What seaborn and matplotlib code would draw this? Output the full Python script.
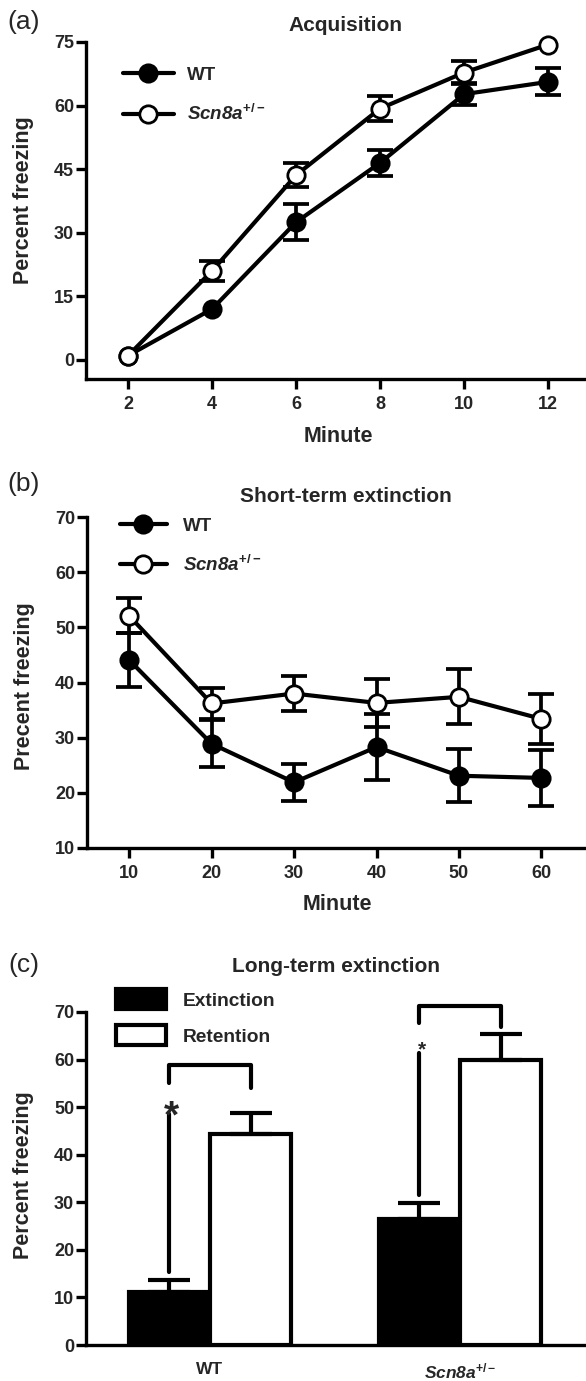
import numpy as np
import pandas as pd
import matplotlib
matplotlib.use("Agg")
import matplotlib.pyplot as plt
from matplotlib.patches import Patch
import seaborn as sns

# (a) Acquisition
acq_minutes = [2, 4, 6, 8, 10, 12]
acq_wt = [1.0, 12.0, 32.5, 46.5, 62.7, 65.6]
acq_wt_sem = [0.5, 1.0, 4.2, 3.0, 2.6, 3.2]
acq_het = [1.0, 21.0, 43.6, 59.3, 67.8, 74.4]
acq_het_sem = [0.5, 2.3, 2.8, 3.0, 2.7, 0.8]

# (b) Short-term extinction
ext_minutes = [10, 20, 30, 40, 50, 60]
ext_wt = [44.1, 28.9, 21.9, 28.3, 23.1, 22.7]
ext_wt_sem = [4.9, 4.3, 3.3, 6.0, 4.8, 5.0]
ext_het = [52.1, 36.2, 38.0, 36.3, 37.4, 33.4]
ext_het_sem = [3.2, 2.8, 3.2, 4.4, 5.0, 4.6]

# (c) Long-term extinction
genotypes = ["WT", "Scn8a$^{+/-}$"]
sessions = ["Extinction", "Retention"]
lt_extinction = [11.1, 26.4]
lt_extinction_sem = [2.5, 3.4]
lt_retention = [44.3, 60.0]
lt_retention_sem = [4.4, 5.3]

# significance brackets (c)
bracket_top = [58.8, 71.2]
bracket_left_end = [55.0, 67.7]
bracket_right_end = [54.0, 66.8]
sig_line_low = [15.3, 31.5]
sig_line_high = [48.6, 61.3]
star_y = [50.4, 63.4]
star_size = [28, 15]

HET = "Scn8a$^{+/-}$"

sns.set_theme(style="ticks")
plt.rcParams["font.family"] = ["Liberation Sans", "DejaVu Sans"]
plt.rcParams["font.weight"] = "bold"
plt.rcParams["axes.labelweight"] = "bold"
plt.rcParams["mathtext.fontset"] = "custom"
plt.rcParams["mathtext.rm"] = "Liberation Sans:bold"
plt.rcParams["mathtext.it"] = "Liberation Sans:italic:bold"
plt.rcParams["mathtext.bf"] = "Liberation Sans:bold"

W, H = 586, 1381
fig = plt.figure(figsize=(W / 100, H / 100), dpi=100)


def axes_px(left, top, right, bottom):
    return fig.add_axes([left / W, 1 - bottom / H, (right - left) / W, (bottom - top) / H])


def style_axes(ax):
    sns.despine(ax=ax)
    for s in ["left", "bottom"]:
        ax.spines[s].set_linewidth(2.4)
        ax.spines[s].set_color("black")
    ax.tick_params(direction="out", length=7, width=2.4, labelsize=13, color="black")
    ax.tick_params(axis="y", pad=1.5)
    ax.tick_params(axis="x", pad=5)
    for t in ax.get_xticklabels() + ax.get_yticklabels():
        t.set_fontweight("bold")


def draw_lines(ax, x, wt, wt_sem, het, het_sem, min_err):
    # like Prism: error bars smaller than the symbol are not drawn
    for y, e in [(wt, wt_sem), (het, het_sem)]:
        keep = np.array(e) > min_err
        ax.errorbar(np.array(x)[keep], np.array(y)[keep], yerr=np.array(e)[keep], fmt="none",
                    ecolor="black", elinewidth=2.7, capsize=9.5, capthick=2.7, zorder=2,
                    clip_on=False)
    sns.lineplot(x=x, y=wt, ax=ax, color="black", lw=3, marker="o", markersize=12.5,
                 markerfacecolor="black", markeredgecolor="black", markeredgewidth=2,
                 label="WT", errorbar=None, zorder=3, clip_on=False)
    sns.lineplot(x=x, y=het, ax=ax, color="black", lw=3, marker="o", markersize=12.5,
                 markerfacecolor="white", markeredgecolor="black", markeredgewidth=2,
                 label=HET, errorbar=None, zorder=4, clip_on=False)


def line_legend(ax, anchor, hl, tp, sp):
    leg = ax.legend(loc="upper left", bbox_to_anchor=anchor, frameon=False, fontsize=13.5,
                    handlelength=hl, handletextpad=tp, labelspacing=sp, borderpad=0,
                    borderaxespad=0, numpoints=1)
    for t in leg.get_texts():
        t.set_fontweight("bold")
    leg.get_texts()[1].set_fontstyle("italic")


# ---------------- (a) ----------------
ax_a = axes_px(86, 42, 586, 379)
draw_lines(ax_a, acq_minutes, acq_wt, acq_wt_sem, acq_het, acq_het_sem, min_err=2.0)
ax_a.set_xlim(1.0, 12.9)
ax_a.set_ylim(-4.5, 75)
ax_a.set_xticks(acq_minutes)
ax_a.set_yticks([0, 15, 30, 45, 60, 75])
style_axes(ax_a)
line_legend(ax_a, (0.074, 0.927), 2.7, 0.7, 1.1)
ax_a.set_ylabel("Percent freezing", fontsize=15.5, va="center")
ax_a.yaxis.set_label_coords(-0.124, 0.531)
ax_a.set_xlabel("Minute", fontsize=15.5, va="center")
ax_a.xaxis.set_label_coords(0.504, -0.172)

# ---------------- (b) ----------------
ax_b = axes_px(87, 517, 586, 848)
draw_lines(ax_b, ext_minutes, ext_wt, ext_wt_sem, ext_het, ext_het_sem, min_err=1.0)
ax_b.set_xlim(4.9, 65.4)
ax_b.set_ylim(10, 70)
ax_b.set_xticks(ext_minutes)
ax_b.set_yticks(range(10, 71, 10))
style_axes(ax_b)
line_legend(ax_b, (0.066, 0.998), 2.5, 0.85, 1.05)
ax_b.set_ylabel("Precent freezing", fontsize=15.5, va="center")
ax_b.yaxis.set_label_coords(-0.126, 0.489)
ax_b.set_xlabel("Minute", fontsize=15.5, va="center")
ax_b.xaxis.set_label_coords(0.501, -0.172)

# ---------------- (c) ----------------
ax_c = axes_px(86, 1012, 586, 1345)
lt = pd.DataFrame({
    "genotype": genotypes * 2,
    "session": [sessions[0]] * 2 + [sessions[1]] * 2,
    "freezing": lt_extinction + lt_retention,
})
sns.barplot(data=lt, x="genotype", y="freezing", hue="session", hue_order=sessions,
            order=genotypes, palette=["black", "white"], saturation=1, edgecolor="black",
            linewidth=3, width=0.65, gap=0, errorbar=None, legend=False, ax=ax_c)

bars = sorted(ax_c.patches, key=lambda p: p.get_x())
centers = [p.get_x() + p.get_width() / 2 for p in bars]
ext_x, ret_x = centers[0::2], centers[1::2]
for xs, ys, es in [(ext_x, lt_extinction, lt_extinction_sem),
                   (ret_x, lt_retention, lt_retention_sem)]:
    ax_c.errorbar(xs, ys, yerr=[np.zeros(len(es)), es], fmt="none", ecolor="black",
                  elinewidth=3, capsize=15, capthick=3, zorder=3)

for i in range(len(genotypes)):
    x0, x1 = ext_x[i], ret_x[i]
    ax_c.plot([x0, x0, x1, x1], [bracket_left_end[i], bracket_top[i], bracket_top[i], bracket_right_end[i]],
              color="black", lw=3, solid_capstyle="round", clip_on=False)
    ax_c.plot([x0, x0], [sig_line_low[i], sig_line_high[i]], color="black", lw=3,
              solid_capstyle="round", clip_on=False)
    fs = star_size[i]
    ax_c.annotate("*", (x0 + 0.01, star_y[i]), xytext=(0, -0.31 * fs), textcoords="offset points",
                  ha="center", va="center", fontsize=fs, fontweight="bold", annotation_clip=False)

ax_c.set_xlim(-0.496, 1.504)
ax_c.set_ylim(0, 70)
ax_c.set_yticks(range(0, 71, 10))
ax_c.set_xlabel("")
style_axes(ax_c)
ax_c.tick_params(axis="x", length=0, pad=12, labelsize=12.5)
ax_c.get_xticklabels()[1].set_fontstyle("italic")
ax_c.set_ylabel("Percent freezing", fontsize=15.5, va="center")
ax_c.yaxis.set_label_coords(-0.124, 0.51)

handles = [Patch(facecolor="black", edgecolor="black", linewidth=3),
           Patch(facecolor="white", edgecolor="black", linewidth=3)]
leg = ax_c.legend(handles, sessions, loc="upper left", bbox_to_anchor=(0.06, 1.069),
                  frameon=False, fontsize=13.8, handlelength=2.6, handleheight=1.25,
                  handletextpad=0.9, labelspacing=0.8, borderpad=0, borderaxespad=0)
for t in leg.get_texts():
    t.set_fontweight("bold")

# panel letters and titles
for letter, (px, py) in zip(["(a)", "(b)", "(c)"], [(24, 22.5), (24, 484), (24, 965)]):
    fig.text(px / W, 1 - py / H, letter, fontsize=19, fontweight="normal", ha="center", va="center")
for title, (px, py) in zip(["Acquisition", "Short-term extinction", "Long-term extinction"],
                           [(345, 31), (346, 502), (336, 972)]):
    fig.text(px / W, 1 - py / H, title, fontsize=15, fontweight="bold", ha="center", va="baseline")

fig.savefig("out.png", dpi=100)
